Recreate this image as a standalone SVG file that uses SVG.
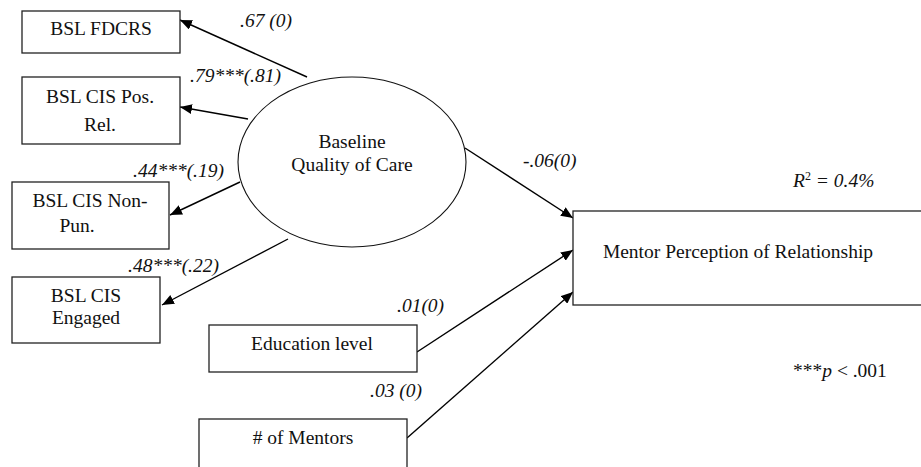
<svg xmlns="http://www.w3.org/2000/svg" width="921" height="467" viewBox="0 0 921 467">
<style>
.box{fill:#fff;stroke:#222;stroke-width:1.3}
.t{font-family:"Liberation Serif","Times New Roman",serif;font-size:19.5px;fill:#111;text-anchor:middle}
.lb{font-family:"Liberation Serif","Times New Roman",serif;font-size:19.5px;fill:#111;font-style:italic}
.c{stroke:#000;stroke-width:1.4;fill:none;marker-end:url(#ah)}
</style>
<defs>
<marker id="ah" viewBox="0 0 12 10" refX="12" refY="5" markerWidth="12" markerHeight="10" markerUnits="userSpaceOnUse" orient="auto">
<path d="M0,0 L12,5 L0,10 Z" fill="#000"/>
</marker>
</defs>
<rect width="921" height="467" fill="#fff"/>
<g id="connectors">
<line class="c" x1="307" y1="77" x2="180" y2="20"/>
<line class="c" x1="248" y1="119" x2="180" y2="107"/>
<line class="c" x1="240" y1="182" x2="170" y2="215"/>
<line class="c" x1="288" y1="239" x2="162" y2="305"/>
<line class="c" x1="465" y1="148" x2="573" y2="218"/>
<line class="c" x1="417" y1="352" x2="573" y2="250"/>
<line class="c" x1="407" y1="438" x2="573" y2="292"/>
</g>
<g id="node-fdcrs">
<rect class="box" x="22" y="11" width="158" height="42"/>
<text class="t" x="101" y="35">BSL FDCRS</text>
</g>
<g id="node-posrel">
<rect class="box" x="22" y="77" width="158" height="67"/>
<text class="t" x="100" y="103">BSL CIS Pos.</text>
<text class="t" x="100" y="131">Rel.</text>
</g>
<g id="node-nonpun">
<rect class="box" x="12" y="182" width="157" height="67"/>
<text class="t" x="90" y="207">BSL CIS Non-</text>
<text class="t" x="77" y="232">Pun.</text>
</g>
<g id="node-engaged">
<rect class="box" x="12" y="277" width="148" height="66"/>
<text class="t" x="86" y="302">BSL CIS</text>
<text class="t" x="86" y="324">Engaged</text>
</g>
<g id="node-baseline">
<ellipse cx="352" cy="162" rx="114" ry="85" fill="#fff" stroke="#111" stroke-width="1.1"/>
<text class="t" x="352" y="148">Baseline</text>
<text class="t" x="352" y="171">Quality of Care</text>
</g>
<g id="node-education">
<rect class="box" x="209" y="325" width="208" height="47"/>
<text class="t" x="312" y="350">Education level</text>
</g>
<g id="node-mentors">
<rect class="box" x="199" y="419" width="208" height="60"/>
<text class="t" x="303" y="444"># of Mentors</text>
</g>
<g id="node-mentor-perception">
<rect class="box" x="573" y="211" width="360" height="94" stroke-width="1.6"/>
<text class="t" x="738" y="258">Mentor Perception of Relationship</text>
</g>
<g id="labels">
<text class="lb" x="240" y="27">.67 (0)</text>
<text class="lb" x="190" y="82">.79***(.81)</text>
<text class="lb" x="133" y="177">.44***(.19)</text>
<text class="lb" x="128" y="272">.48***(.22)</text>
<text class="lb" x="523" y="167">-.06(0)</text>
<text class="lb" x="397" y="312">.01(0)</text>
<text class="lb" x="370" y="397">.03 (0)</text>
<text class="lb" x="793" y="187">R<tspan font-size="12" dy="-7" font-style="normal">2</tspan><tspan dy="7"> = 0.4%</tspan></text>
<text font-family="Liberation Serif, Times New Roman, serif" font-size="19.5" fill="#111" x="793" y="377">***<tspan font-style="italic">p</tspan> &lt; .001</text>
</g>
</svg>
